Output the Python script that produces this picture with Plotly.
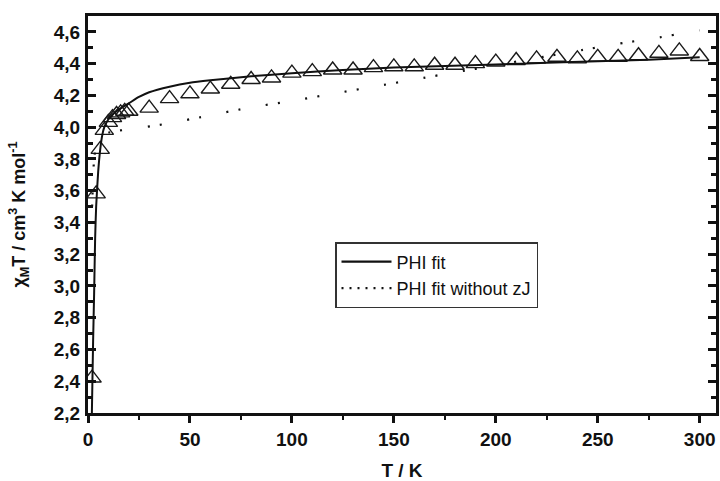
import plotly.graph_objects as go

# ---- data ----
T_data = [2, 4, 6, 8, 10, 12, 14, 16, 18, 20, 30, 40, 50, 60, 70, 80, 90, 100, 110, 120,
          130, 140, 150, 160, 170, 180, 190, 200, 210, 220, 230, 240, 250, 260, 270, 280, 290, 300]
chiT_data = [2.42, 3.58, 3.86, 3.98, 4.03, 4.06, 4.08, 4.09, 4.10, 4.10, 4.12, 4.18, 4.21, 4.24,
             4.27, 4.30, 4.31, 4.34, 4.35, 4.36, 4.36, 4.375, 4.38, 4.38, 4.39, 4.39, 4.40, 4.41,
             4.42, 4.43, 4.44, 4.43, 4.44, 4.44, 4.45, 4.465, 4.48, 4.445]

T_fit = [1.9, 2.5, 3, 3.5, 4, 5, 6, 7, 8, 10, 12, 15, 20, 25, 30, 40, 50, 60, 80, 100,
         125, 150, 175, 200, 225, 250, 275, 300]
chiT_fit = [2.2, 2.65, 2.95, 3.3, 3.5, 3.72, 3.86, 3.95, 4.0, 4.05, 4.08, 4.11, 4.15, 4.19,
            4.22, 4.255, 4.28, 4.295, 4.32, 4.34, 4.36, 4.375, 4.385, 4.395, 4.405, 4.415,
            4.425, 4.44]

T_nozj = [2, 3, 4, 6, 10, 15, 20, 40, 60, 80, 100, 120, 140, 160, 180, 200, 220, 240, 260, 280, 300]
chiT_nozj = [3.5, 3.8, 3.88, 3.94, 3.965, 3.978, 3.985, 4.025, 4.075, 4.125, 4.165, 4.21, 4.255,
             4.30, 4.345, 4.39, 4.435, 4.48, 4.525, 4.565, 4.61]

y_ticks = [2.2, 2.4, 2.6, 2.8, 3.0, 3.2, 3.4, 3.6, 3.8, 4.0, 4.2, 4.4, 4.6]
y_ticklabels = ["2,2", "2,4", "2,6", "2,8", "3,0", "3,2", "3,4", "3,6", "3,8", "4,0", "4,2", "4,4", "4,6"]
x_ticks = [0, 50, 100, 150, 200, 250, 300]
x_ticklabels = ["0", "50", "100", "150", "200", "250", "300"]

INK = "#111111"
FONT = "Liberation Sans, Arial, sans-serif"

fig = go.Figure()

fig.add_trace(go.Scatter(
    x=T_data, y=chiT_data, mode="markers", showlegend=False,
    marker=dict(symbol="triangle-up-open", size=16, color="#1a1a1a", line=dict(width=1.4, color="#1a1a1a")),
))
fig.add_trace(go.Scatter(
    x=T_fit, y=chiT_fit, mode="lines", showlegend=False,
    line=dict(color=INK, width=2, shape="spline", smoothing=0.6),
))
fig.add_trace(go.Scatter(
    x=T_nozj, y=chiT_nozj, mode="lines", showlegend=False,
    line=dict(color=INK, width=2.2, dash="2px,10px,2px,26px", shape="spline", smoothing=0.6),
))
# legend entries
fig.add_trace(go.Scatter(
    x=[None], y=[None], mode="lines", name="PHI fit",
    line=dict(color=INK, width=2.2),
))
fig.add_trace(go.Scatter(
    x=[None], y=[None], mode="lines", name="PHI fit without zJ",
    line=dict(color=INK, width=2.2, dash="2px,6px"),
))

fig.update_layout(
    width=720, height=481,
    margin=dict(l=88, r=4, t=16, b=68),
    paper_bgcolor="white", plot_bgcolor="white",
    font=dict(family=FONT, color=INK),
    legend=dict(
        x=(335 - 88) / 628, y=(412 - 241) / 397, xanchor="left", yanchor="top",
        bordercolor="#333333", borderwidth=1.5, bgcolor="white",
        font=dict(family=FONT, size=18, color=INK), itemwidth=50,
    ),
    xaxis=dict(
        range=[0, 308], tickvals=x_ticks, ticktext=["<b>%s</b>" % t for t in x_ticklabels],
        showgrid=False, zeroline=False, automargin=False,
        showline=True, linewidth=3, linecolor=INK, mirror=True,
        ticks="outside", ticklen=7, tickwidth=3, tickcolor=INK,
        minor=dict(ticks="outside", ticklen=4, tickwidth=2, dtick=25, tick0=0, tickcolor=INK),
        tickfont=dict(family=FONT, size=19, color=INK),
        title=dict(text="<b>T / K</b>", font=dict(family=FONT, size=19, color=INK), standoff=25),
    ),
    yaxis=dict(
        range=[2.2, 4.7], tickvals=y_ticks, ticktext=["<b>%s</b>" % t for t in y_ticklabels],
        showgrid=False, zeroline=False, automargin=False,
        showline=True, linewidth=3, linecolor=INK, mirror="ticks",
        ticks="inside", ticklen=8, tickwidth=3, tickcolor=INK, ticklabelstandoff=1,
        minor=dict(ticks="inside", ticklen=5, tickwidth=2.5, dtick=0.1, tick0=2.2, tickcolor=INK),
        tickfont=dict(family=FONT, size=19, color=INK),
        title=dict(text="<b>χ<sub>M</sub>T / cm<sup>3</sup> K mol<sup>-1</sup></b>",
                   font=dict(family=FONT, size=18, color=INK), standoff=24),
    ),
)

fig.write_html("out.html", config={"displayModeBar": False},
               post_script="document.body.style.margin='0';document.body.style.overflow='hidden';")
